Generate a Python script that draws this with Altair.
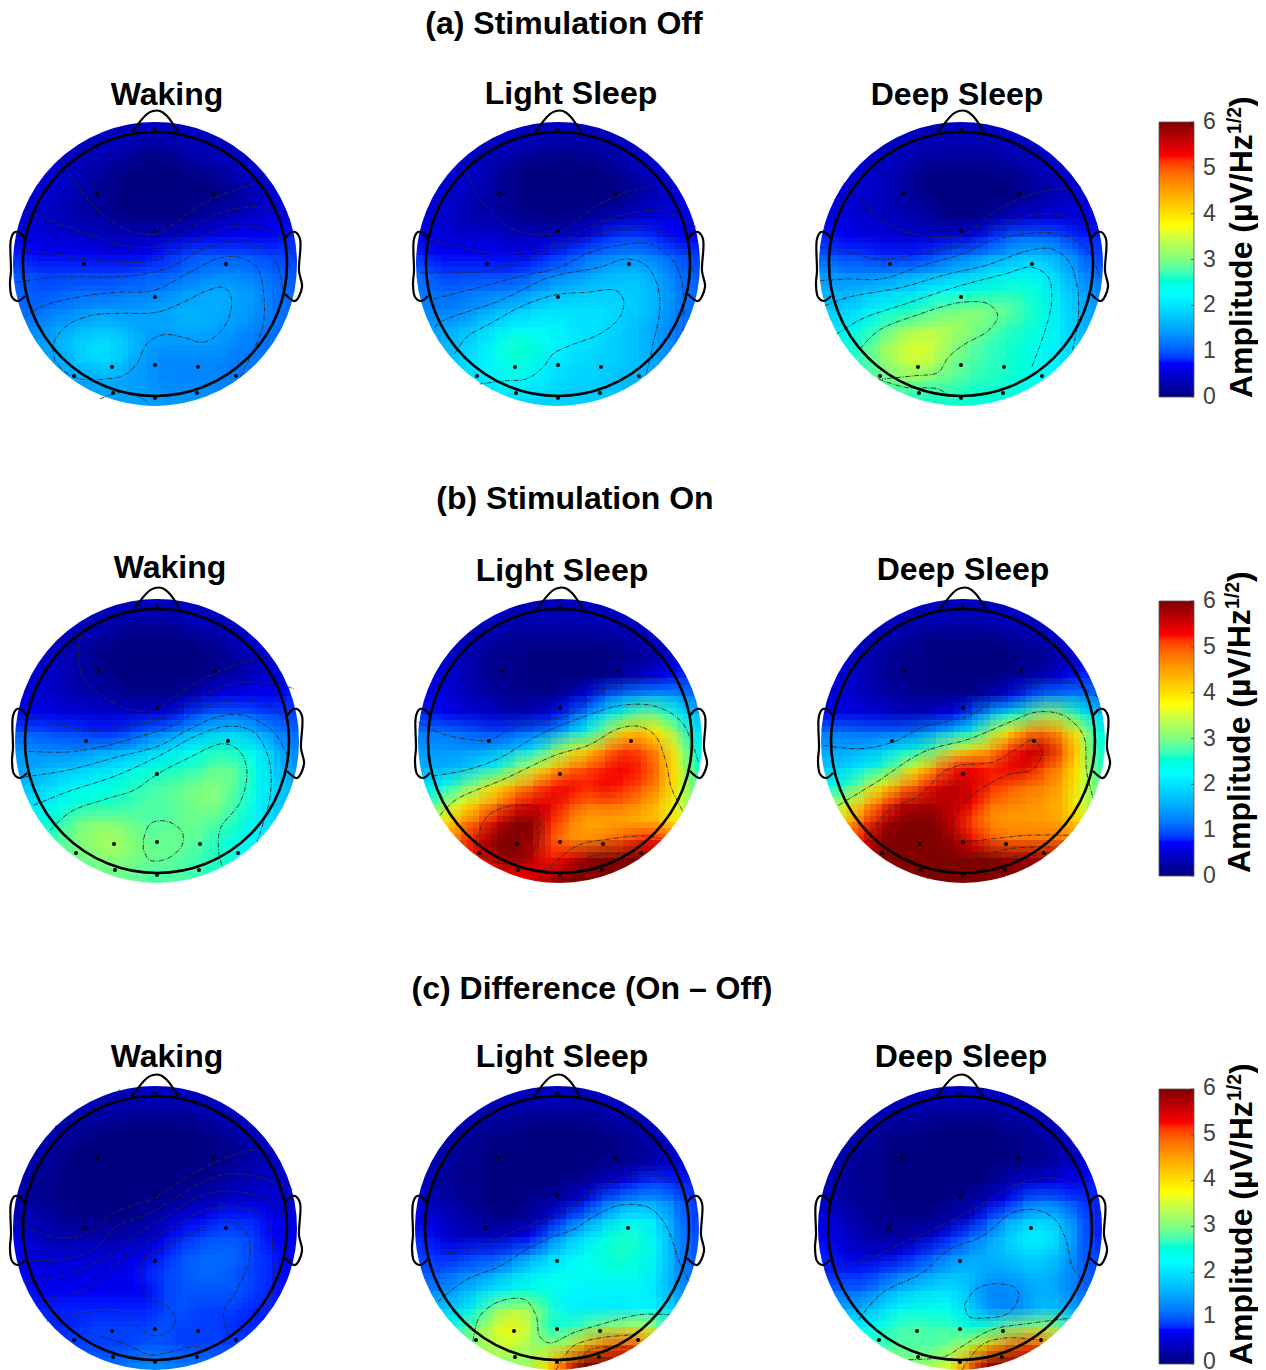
import altair as alt
import pandas as pd

alt.data_transformers.disable_max_rows()

# ---- amplitude grids, tenths of uV/Hz^1/2 (16 x 16 cells, top row first)
off_waking = [
[4,4,4,4,4,4,4,4,4,4,4,4,4,4,4,4],[4,4,4,4,4,4,3,2,2,3,4,4,4,4,4,4],[5,5,5,4,3,2,1,0,0,1,2,3,4,5,5,5],[5,5,5,4,2,1,0,0,0,0,0,1,2,4,5,6],
[5,5,4,3,2,1,0,0,0,0,1,1,2,3,5,6],[5,5,4,3,3,2,1,1,1,1,2,3,4,5,6,7],[6,6,5,5,4,4,4,4,4,5,6,7,7,7,7,8],[8,7,7,7,7,6,6,7,8,9,10,10,10,10,9,9],
[10,9,9,9,9,9,9,10,10,11,12,13,13,12,11,10],[11,10,10,11,11,11,12,12,13,14,15,16,15,14,12,11],[11,11,12,13,14,14,14,15,15,16,16,16,15,14,12,11],[13,13,15,16,17,17,16,15,15,16,16,15,14,13,12,11],
[14,14,16,18,20,20,18,15,14,14,14,14,13,12,11,11],[14,15,15,17,19,19,16,14,13,13,13,13,12,12,12,12],[14,15,15,15,15,16,15,14,13,13,13,13,12,12,12,12],[14,14,14,14,15,15,15,15,14,14,14,13,13,13,13,13]]
off_light = [
[4,4,4,4,4,4,4,4,4,4,4,4,4,4,4,4],[4,4,4,4,4,4,3,2,2,2,3,4,4,4,4,4],[5,5,5,4,3,1,0,0,0,0,1,2,4,5,5,5],[5,5,5,4,2,1,0,0,0,0,0,1,2,4,5,6],
[5,5,4,3,2,1,0,0,0,0,1,1,3,4,5,6],[5,5,4,3,3,2,1,1,1,2,3,4,5,6,6,7],[6,6,5,5,5,4,4,4,5,6,8,9,9,8,7,7],[8,7,7,7,7,6,7,8,9,11,12,13,13,12,10,9],
[11,9,9,9,9,9,10,12,13,14,16,17,17,15,12,10],[12,11,11,12,12,13,14,16,17,18,18,18,18,16,13,11],[13,12,13,14,16,17,19,20,20,20,20,19,18,16,13,11],[15,15,16,18,20,22,22,22,21,20,20,18,17,15,12,11],
[15,16,18,20,23,26,25,23,21,20,19,18,17,15,12,11],[16,17,19,21,23,25,24,21,20,19,19,18,17,15,13,12],[16,17,18,20,22,23,22,20,19,19,18,17,16,15,14,13],[16,17,18,19,20,20,19,19,19,18,18,17,16,15,14,14]]
off_deep = [
[4,4,4,4,4,4,4,4,4,4,4,4,4,4,4,4],[4,4,4,4,4,4,3,3,3,3,4,4,4,4,4,4],[5,5,5,4,4,2,1,1,1,1,2,3,4,5,5,5],[5,5,5,4,3,1,0,0,0,0,0,1,2,4,5,5],
[5,5,5,4,3,2,1,0,0,0,1,2,3,4,5,6],[6,6,5,4,4,3,2,1,1,2,4,5,6,6,6,6],[8,7,6,6,5,5,5,5,6,8,10,11,11,10,8,8],[10,9,9,8,8,8,9,11,12,14,15,17,17,15,12,9],
[14,13,13,13,14,15,16,17,18,20,21,22,21,18,14,11],[16,16,17,18,19,20,22,23,24,25,26,26,24,20,16,13],[18,18,20,22,25,26,28,29,30,30,29,27,25,21,17,14],[20,21,24,27,30,32,33,33,31,29,27,26,24,21,17,15],
[22,24,27,31,34,36,35,31,29,27,26,25,23,21,18,16],[22,24,27,30,33,35,33,30,28,27,26,25,23,21,19,17],[22,24,26,28,30,30,29,28,27,26,26,24,23,22,20,18],[22,23,24,25,26,26,26,26,25,25,25,24,23,22,21,20]]
on_waking = [
[4,4,4,4,4,4,4,4,4,4,4,4,4,4,4,4],[4,4,4,4,4,3,2,2,2,3,4,4,4,4,4,4],[5,5,4,3,2,1,0,0,0,0,1,2,4,5,5,5],[5,5,4,3,1,0,0,0,0,0,0,1,2,4,5,6],
[5,5,4,3,2,1,0,0,0,0,1,2,3,4,5,6],[5,5,4,3,3,2,1,1,1,2,4,6,7,7,7,8],[7,7,6,6,5,5,5,5,6,8,10,11,11,10,9,9],[10,10,9,9,8,8,9,11,12,15,17,18,18,16,13,11],
[14,13,13,13,14,15,16,18,20,22,24,26,25,22,17,13],[15,16,17,18,19,20,22,24,25,26,27,29,28,24,19,14],[17,18,20,22,23,24,26,27,28,29,30,30,28,24,20,16],[20,21,23,25,26,26,27,28,28,29,30,30,27,23,19,16],
[23,24,26,29,30,30,29,28,28,29,29,28,26,22,19,17],[25,26,28,30,32,33,31,29,29,29,28,26,24,22,20,18],[26,27,28,29,30,31,30,29,29,28,27,26,24,23,22,20],[27,27,28,28,29,29,29,28,28,28,27,26,25,24,23,22]]
on_light = [
[4,4,4,4,4,4,4,4,4,4,4,4,4,4,4,4],[4,4,4,4,4,3,3,3,3,3,4,4,4,4,4,4],[5,5,4,3,2,1,1,1,1,1,1,2,3,4,5,5],[5,5,4,2,1,1,0,0,0,0,0,1,1,3,5,5],
[5,5,4,2,1,1,0,0,0,0,1,3,5,7,8,9],[6,6,4,3,2,1,1,1,3,6,10,13,15,16,14,11],[8,7,6,5,4,3,4,6,9,14,20,26,29,28,23,17],[12,12,11,10,9,10,11,13,18,24,31,40,42,38,30,20],
[14,14,14,14,16,18,21,29,35,40,46,51,50,45,36,24],[16,16,17,20,24,30,35,41,47,50,52,53,52,47,38,26],[20,23,28,33,39,43,48,52,53,52,53,52,50,46,38,28],[26,31,37,42,47,52,54,54,51,48,49,48,46,42,36,29],
[34,38,45,50,55,60,59,52,47,44,44,44,43,42,38,32],[40,44,50,55,60,62,58,50,46,46,48,50,52,52,48,42],[43,46,50,54,58,60,56,52,54,58,60,62,62,60,55,48],[45,46,48,50,52,53,54,57,60,62,62,62,62,58,52,46]]
on_deep = [
[4,4,4,4,4,4,4,4,4,4,4,4,4,4,4,4],[4,4,4,4,4,3,3,3,3,3,4,4,4,4,4,4],[5,5,4,3,2,1,0,0,0,0,1,2,3,4,5,5],[5,5,4,2,1,1,0,0,0,0,0,1,1,3,5,5],
[5,5,4,2,1,1,0,0,0,0,1,2,4,6,8,9],[6,5,4,3,2,1,1,1,1,3,6,9,12,13,13,11],[7,6,6,5,4,4,5,7,10,16,22,27,31,30,25,18],[12,12,11,11,11,12,15,19,24,31,38,46,48,44,36,24],
[15,15,16,18,21,25,29,35,40,44,51,55,56,50,39,26],[18,19,22,26,31,38,46,52,53,52,54,54,50,46,38,27],[23,26,31,38,45,50,54,57,55,52,50,48,47,44,37,28],[30,35,42,50,55,57,57,56,53,48,47,46,45,43,37,29],
[36,42,50,56,60,62,60,55,50,46,45,45,45,44,40,33],[42,48,54,60,62,62,62,58,53,50,48,48,48,48,47,42],[46,50,55,60,62,62,62,62,62,60,58,58,58,58,55,50],[48,52,55,58,60,62,62,62,62,62,62,62,60,58,55,52]]
diff_waking = [
[4,4,4,4,4,4,4,4,4,4,4,4,4,4,4,4],[4,4,4,4,3,3,2,2,2,2,3,4,4,4,4,4],[4,4,3,2,1,0,0,0,0,0,1,1,3,4,4,4],[4,3,2,1,0,0,0,0,0,0,0,1,1,3,4,4],
[4,2,1,0,0,0,0,0,0,0,1,1,2,3,4,5],[3,1,1,0,0,0,0,0,0,1,1,2,3,4,4,5],[3,2,1,0,0,0,0,1,1,2,3,4,5,5,5,5],[4,3,2,1,1,1,1,2,4,6,7,8,8,8,7,6],
[6,4,3,3,3,3,3,4,6,8,9,10,10,9,7,7],[7,5,5,5,5,5,6,6,8,10,11,11,11,9,8,7],[7,6,6,6,6,6,7,8,9,10,11,11,10,9,8,7],[8,7,7,7,7,7,7,7,9,10,10,10,10,9,8,7],
[8,8,8,8,8,8,8,8,9,10,9,9,9,8,8,7],[8,8,8,8,9,9,9,9,10,9,9,9,8,8,8,8],[8,8,9,9,9,9,9,10,10,9,9,9,9,9,9,9],[9,9,10,10,11,11,12,13,13,12,12,11,10,10,10,10]]
diff_light = [
[4,4,4,4,4,4,4,4,4,4,4,4,4,4,4,4],[4,4,4,4,3,3,2,2,2,2,3,4,4,4,4,4],[5,4,3,2,1,1,0,0,0,0,1,1,3,4,5,5],[4,3,2,1,0,0,0,0,0,0,0,1,1,3,4,5],
[4,3,1,1,0,0,0,0,0,0,1,1,2,3,5,6],[4,2,1,1,0,0,0,0,1,2,4,6,8,9,8,8],[5,3,2,1,0,0,1,2,3,6,10,13,15,15,12,9],[6,5,3,2,1,1,2,5,9,13,17,21,22,20,14,9],
[8,6,4,4,4,5,7,11,16,20,24,26,26,22,15,10],[9,8,8,9,9,11,14,18,21,23,25,26,25,22,15,10],[10,10,12,13,15,18,21,22,23,23,24,24,24,21,15,11],[13,13,15,18,21,24,25,24,23,22,22,22,22,20,15,12],
[18,18,19,24,30,33,33,27,22,21,21,20,22,22,18,14],[24,24,26,30,35,38,34,26,26,28,31,33,35,32,25,18],[26,27,28,31,34,35,32,31,34,42,48,50,50,44,34,30],[28,29,30,31,31,31,32,40,50,60,62,62,60,52,42,36]]
diff_deep = [
[4,4,4,4,4,4,4,4,4,4,4,4,4,4,4,4],[4,4,4,4,3,3,2,2,2,2,3,4,4,4,4,4],[5,4,3,2,1,1,0,0,0,0,1,1,3,4,5,5],[4,3,2,1,0,0,0,0,0,0,0,1,1,3,4,5],
[4,3,1,1,0,0,0,0,0,0,1,1,2,3,5,6],[4,2,1,1,0,0,0,0,0,1,3,5,6,7,7,8],[4,2,2,1,0,0,0,1,2,4,7,10,12,11,9,8],[6,4,2,1,1,1,1,3,5,9,14,17,19,17,12,8],
[7,5,3,2,2,3,5,8,11,14,18,21,22,19,13,8],[8,6,5,5,6,8,10,13,15,16,17,19,19,17,12,9],[8,8,8,9,11,13,15,17,17,15,15,16,17,15,12,9],[11,11,11,14,17,19,20,20,17,13,13,14,16,15,12,10],
[16,16,16,19,22,24,24,23,19,14,13,14,17,17,14,11],[22,22,22,24,27,28,27,27,25,26,29,31,33,30,23,16],[26,26,27,27,28,28,28,30,34,41,47,50,50,44,36,27],[27,28,29,30,30,31,32,36,48,58,62,62,60,52,44,30]]

# ---- contour lines, x/y in a 3x zoom of each panel, with the panel's head centre
off_waking_c = (465, 580, [
[(185,265),(215,320),(270,395),(340,455),(400,485),(465,490),(520,460),(590,410),(660,375),(775,335)],
[(75,420),(180,460),(290,500),(400,530),(480,525),(560,480),(640,435),(720,412),(800,412),(870,445)],
[(80,538),(200,555),(320,572),(440,572),(530,540),(620,490),(700,468),(780,470),(850,510),(890,570)],
[(50,635),(160,620),(350,618),(430,610),(510,590),(600,540),(700,513),(780,530),(830,580),(850,660)],
[(75,740),(120,710),(230,680),(350,665),(460,660),(560,610),(650,565),(710,558),(770,590),(790,660),(790,760),(760,840),(720,920)],
[(165,870),(160,820),(200,765),(270,735),(350,728),(470,725),(550,695),(620,660),(670,650),(692,675),(690,730),(660,785),(610,815),(550,800),(490,792),(440,820),(410,880),(370,915),(320,925),(240,925),(190,900),(165,870)],
[(300,985),(370,965),(430,985),(450,1005)]])
off_light_c = (475, 580, [
[(200,280),(215,340),(270,420),(340,475),(420,492),(480,485),(530,450),(600,400),(680,365),(780,340)],
[(85,505),(180,530),(280,548),(400,540),(490,510),(570,470),(680,430),(780,420),(850,445),(890,470)],
[(60,607),(160,607),(270,600),(380,565),(480,530),(560,500),(650,478),(750,472),(840,520),(880,600)],
[(100,685),(220,655),(350,620),(480,590),(560,550),(650,525),(750,520),(820,570),(850,650),(850,780)],
[(105,770),(130,750),(300,690),(450,620),(600,590),(680,565),(740,585),(775,650),(780,720),(760,820),(740,910)],
[(165,850),(200,800),(270,760),(370,705),(470,672),(560,665),(650,660),(672,690),(660,740),(600,790),(510,825),(460,850),(430,890),(380,925),(320,930),(240,940)]])
off_deep_c = (468, 580, [
[(115,335),(170,395),(250,460),(330,490),(420,498),(480,490),(560,430),(640,385),(720,360),(830,350)],
[(45,530),(130,545),(220,565),(340,550),(460,525),(550,480),(650,440),(750,430),(860,470)],
[(45,630),(130,625),(230,625),(350,585),(470,550),(560,510),(680,488),(760,490),(840,530),(885,620)],
[(60,705),(130,680),(290,650),(430,610),(540,585),(670,540),(740,535),(790,570),(815,640),(820,740),(800,850)],
[(95,790),(170,745),(300,700),(450,650),(600,610),(680,590),(730,620),(740,690),(720,780),(680,890)],
[(165,835),(220,780),(330,735),(470,695),(550,700),(578,735),(550,780),(480,820),(430,860),(400,905),(330,915),(230,925)],
[(220,925),(300,950),(400,955),(430,975)]])
on_waking_c = (470, 587, [
[(270,220),(235,300),(250,400),(310,455),(400,495),(470,490),(550,435),(640,385),(720,355),(810,328)],
[(85,510),(180,540),(290,555),(400,540),(490,515),(570,470),(680,420),(800,410),(880,430)],
[(85,618),(200,620),(300,605),(430,570),(520,540),(620,480),(720,462),(800,480),(870,530)],
[(70,695),(200,675),(350,635),(480,600),(560,555),(650,515),(730,510),(820,560),(860,630)],
[(100,780),(200,740),(350,690),(480,630),(580,575),(680,543),(760,560),(805,640),(810,750),(770,890)],
[(150,855),(210,800),(320,760),(400,735),(470,687),(560,640),(670,595),(720,620),(740,680),(720,770),(660,850),(655,920),(665,960)],
[(430,880),(450,835),(500,828),(545,860),(545,900),(500,940),(450,945),(430,915),(430,880)]])
on_light_c = (465, 587, [
[(40,530),(110,565),(200,583),(255,583),(330,545),(430,525),(500,505),(570,450),(650,410),(750,398),(840,420)],
[(85,692),(180,675),(280,640),(400,570),(520,520),(650,480),(750,483),(830,530),(880,650)],
[(105,810),(150,765),(300,700),(450,630),(550,600),(640,550),(700,543),(750,570),(780,640),(800,730),(835,800)],
[(215,880),(250,810),(330,780),(395,790),(405,850),(395,900),(350,945),(290,955),(220,920),(215,880)],
[(400,1005),(450,950),(520,900),(620,880),(720,872),(770,880)],
[(530,1005),(530,950),(600,925),(700,935)]])
on_deep_c = (459, 587, [
[(40,600),(150,610),(250,590),(340,545),(480,510),(560,460),(650,420),(760,405),(870,460)],
[(85,780),(200,710),(340,620),(480,580),(600,530),(680,500),(760,510),(820,570),(830,680),(850,760)],
[(170,890),(230,800),(330,750),(400,680),(450,660),(550,650),(620,610),(670,585),(695,620),(670,670),(590,690),(500,740),(440,800),(440,860),(470,885),(550,880),(650,870),(780,870)],
[(350,1000),(430,960),(600,910),(720,905)],
[(480,1010),(520,960),(600,935),(680,930)]])
diff_waking_c = (465, 595, [
[(165,290),(280,240),(360,180)],
[(45,570),(120,610),(200,625),(280,600),(340,550),(460,505),(550,450),(640,400),(720,370),(800,350)],
[(50,690),(180,690),(280,660),(350,590),(450,550),(550,490),(650,440),(750,435),(880,480)],
[(70,755),(200,735),(320,680),(400,620),(500,560),(600,500),(700,485),(800,510),(860,570)],
[(110,818),(250,780),(330,720),(420,650),(520,590),(620,540),(720,530),(800,570),(820,680),(820,780),(790,870)],
[(685,920),(670,850),(710,780),(750,680),(740,610),(680,575),(600,600),(500,650),(430,690),(420,750),(440,800),(500,830),(527,870),(500,910),(450,915),(400,880),(370,850),(300,845),(220,855),(140,875)],
[(300,920),(380,945),(450,975),(520,965),(590,950),(640,975)]])
diff_light_c = (472, 595, [
[(125,670),(220,660),(320,615),(430,570),(500,540),(570,490),(650,450),(750,438),(840,465),(890,520)],
[(115,815),(200,750),(300,710),(380,660),(450,625),(520,600),(600,550),(670,525),(750,535),(800,590),(840,700),(870,760)],
[(220,935),(240,860),(300,815),(375,810),(410,860),(420,920),(450,940),(520,910),(600,885),(720,855),(810,855)],
[(470,1020),(520,950),(600,925),(710,915)],
[(530,1010),(570,960),(700,955)]])
diff_deep_c = (464, 595, [
[(60,725),(180,690),(280,645),(400,590),(520,530),(620,470),(720,445),(820,470),(890,570)],
[(160,870),(230,790),(350,730),(430,660),(530,620),(620,550),(690,540),(750,570),(785,640),(800,710),(850,770)],
[(478,825),(510,780),(570,762),(630,775),(640,800),(610,850),(540,865),(490,860),(478,825)],
[(310,990),(420,980),(470,950),(560,900),(680,880),(800,865)],
[(470,1020),(530,945),(600,925),(700,930)]])

# ---- head geometry, pixels from head centre
electrodes_x = [0,-58,58,0,-71,71,0,-43,0,43,-81,81,-42,42,0]
electrodes_y = [-134,-70,-70,-33,0,0,33,103,101,103,112,112,129,129,134]
nose = [(-23,-132),(-8,-150),(-2,-153),(5,-153),(12,-148),(23,-132)]
ear_l = [(-130,-25),(-135,-31),(-140,-32),(-144,-25),(-144,7),(-145,20),(-143,33),(-137,37),(-130,32)]
ear_r = [(130,-25),(135,-31),(140,-32),(145,-25),(144,7),(147,23),(140,37),(130,30)]

# ---- panels: grid, contours, head centre
panels = [
 (off_waking, off_waking_c, 155, 264), (off_light, off_light_c, 558, 264), (off_deep, off_deep_c, 961, 264),
 (on_waking, on_waking_c, 157, 741), (on_light, on_light_c, 560, 741), (on_deep, on_deep_c, 963, 741),
 (diff_waking, diff_waking_c, 155, 1228), (diff_light, diff_light_c, 557, 1228), (diff_deep, diff_deep_c, 960, 1228),
]
titles = ["(a) Stimulation Off", "(b) Stimulation On", "(c) Difference (On \u2013 Off)"]
titles_x = [564, 575, 592]
titles_y = [24, 499, 989]
sub_text = ["Waking","Light Sleep","Deep Sleep"]*3
sub_x = [167,571,957,170,562,963,167,562,961]
sub_y = [95,94,95,568,571,570,1057,1057,1057]
bar_top = [122, 601, 1089]
bar_bottom = [397, 876, 1364]
bar_ticks = [0,1,2,3,4,5,6]
tick_label_top = [122, 601, 1088]
tick_label_bottom = [397, 876, 1362]
label_start = [398, 873, 1365]
label_base = [1252, 1250, 1252]

CELL, N = 18, 16
RING_R, DISK_R = 132, 142
W, H = 1258, 1370
EXT = 11

cells, cont, elec, ring, outline = [], [], [], [], []
steps = [-9,-3,3,9]
offs = [(a,b) for b in steps for a in steps]
for p,(grid,cn,cx,cy) in enumerate(panels):
    for k,(dx,dy) in enumerate(offs):
        for r,row in enumerate(grid):
            for c,v in enumerate(row):
                x0 = cx-144+c*CELL+dx - (EXT if c==0 else 0)
                x1 = cx-144+(c+1)*CELL+dx + (EXT if c==N-1 else 0)
                y0 = cy-144+r*CELL+dy - (EXT if r==0 else 0)
                y1 = cy-144+(r+1)*CELL+dy + (EXT if r==N-1 else 0)
                cells.append(dict(x=x0,x2=x1,y=y0,y2=y1,v=v/10,o=round(1/(k+1),4)))
    zx,zy,lines = cn
    for i,l in enumerate(lines):
        for j,(a,b) in enumerate(l):
            cont.append(dict(x=round(cx+(a-zx)/3,1),y=round(cy+(b-zy)/3,1),id=f"{p}-{i}",k=j))
    for ex,ey in zip(electrodes_x,electrodes_y):
        elec.append(dict(x=cx+ex,y=cy+ey))
    ring.append(dict(x=cx,y=cy))
    for nm,pts in (("n",nose),("l",ear_l),("r",ear_r)):
        for j,(a,b) in enumerate(pts):
            outline.append(dict(x=cx+a,y=cy+b,id=f"{p}{nm}",k=j))

X = alt.X("x:Q", scale=alt.Scale(domain=[8,W]), axis=None)
Y = alt.Y("y:Q", scale=alt.Scale(domain=[H,8]), axis=None)
jet = alt.Scale(domain=[0,0.75,2.25,3,3.75,5.25,6],
                range=["#000080","#0000ff","#00ffff","#80ff80","#ffff00","#ff0000","#800000"],
                clamp=True)
FONT = "Liberation Sans"

layer_cells = alt.Chart(pd.DataFrame(cells)).mark_rect(strokeWidth=0).encode(
    X, alt.X2("x2:Q"), Y, alt.Y2("y2:Q"),
    color=alt.Color("v:Q", scale=jet, legend=None),
    opacity=alt.Opacity("o:Q", scale=None))

rd = pd.DataFrame(ring)
outer = 240
layer_mask = alt.Chart(rd).mark_point(filled=False, stroke="white", strokeWidth=outer-DISK_R, opacity=1,
                                      size=(outer+DISK_R)**2).encode(X, Y)
layer_cont = alt.Chart(pd.DataFrame(cont)).mark_line(interpolate="catmull-rom", stroke="#2a2a2a", strokeWidth=1,
                                                     opacity=0.9, strokeDash=[5,1.5,1,1.5]).encode(
    X, Y, detail="id:N", order="k:Q")
layer_elec = alt.Chart(pd.DataFrame(elec)).mark_point(filled=True, color="black", size=16, opacity=1).encode(X, Y)
layer_ring = alt.Chart(rd).mark_point(filled=False, stroke="black", strokeWidth=2.6, opacity=1,
                                      size=(2*RING_R)**2).encode(X, Y)
layer_out = alt.Chart(pd.DataFrame(outline)).mark_line(stroke="black", strokeWidth=2.2, interpolate="catmull-rom").encode(
    X, Y, detail="id:N", order="k:Q")

title_df = pd.DataFrame(dict(x=titles_x,y=titles_y,t=titles))
layer_title = alt.Chart(title_df).mark_text(font=FONT, fontSize=32, fontWeight="bold", color="black", baseline="middle").encode(X, Y, text="t:N")
sub_df = pd.DataFrame(dict(x=sub_x,y=sub_y,t=sub_text))
layer_sub = alt.Chart(sub_df).mark_text(font=FONT, fontSize=32, fontWeight="bold", color="black", baseline="middle").encode(X, Y, text="t:N")

bars, bar_frame, ticks, tlabels, t_main, t_sup, t_par = [], [], [], [], [], [], []
for b,(t,bt) in enumerate(zip(bar_top,bar_bottom)):
    for i in range(bt-t):
        bars.append(dict(x=1159,x2=1194,y=bt-i,y2=bt-i-1,v=6*(i+.5)/(bt-t)))
    bar_frame.append(dict(x=1159,x2=1194,y=t,y2=bt))
    for v in bar_ticks:
        ticks.append(dict(x=1191,x2=1194,y=bt-(bt-t)*v/6))
        lt, lb = tick_label_top[b], tick_label_bottom[b]
        tlabels.append(dict(x=1203,y=lb-(lb-lt)*v/6,t=str(v)))
    s, bx = label_start[b], label_base[b]
    t_main.append(dict(x=bx,y=s,t="Amplitude (\u00b5V/Hz"))
    t_sup.append(dict(x=bx-11,y=s-264,t="1/2"))
    t_par.append(dict(x=bx,y=s-291,t=")"))

layer_bar = alt.Chart(pd.DataFrame(bars)).mark_rect(strokeWidth=0).encode(
    X, alt.X2("x2:Q"), Y, alt.Y2("y2:Q"),
    color=alt.Color("v:Q", scale=jet, legend=None))
layer_frame = alt.Chart(pd.DataFrame(bar_frame)).mark_rect(fill=None, stroke="#555555", strokeWidth=0.8).encode(
    X, alt.X2("x2:Q"), Y, alt.Y2("y2:Q"))
layer_ticks = alt.Chart(pd.DataFrame(ticks)).mark_rule(stroke="#444444", strokeWidth=0.8).encode(X, alt.X2("x2:Q"), Y)
layer_tl = alt.Chart(pd.DataFrame(tlabels)).mark_text(font=FONT, fontSize=23, color="#404040", align="left", baseline="middle").encode(X, Y, text="t:N")
layer_m = alt.Chart(pd.DataFrame(t_main)).mark_text(font=FONT, fontSize=32, fontWeight="bold", color="black", angle=270, align="left", baseline="alphabetic").encode(X, Y, text="t:N")
layer_s = alt.Chart(pd.DataFrame(t_sup)).mark_text(font=FONT, fontSize=19.5, fontWeight="bold", color="black", angle=270, align="left", baseline="alphabetic").encode(X, Y, text="t:N")
layer_p = alt.Chart(pd.DataFrame(t_par)).mark_text(font=FONT, fontSize=32, fontWeight="bold", color="black", angle=270, align="left", baseline="alphabetic").encode(X, Y, text="t:N")

chart = alt.layer(layer_cells, layer_mask, layer_cont, layer_elec, layer_ring, layer_out, layer_title, layer_sub,
                  layer_bar, layer_frame, layer_ticks, layer_tl, layer_m, layer_s, layer_p
    ).resolve_scale(color="shared").properties(
    width=W-8, height=H-8, padding=0, autosize=alt.AutoSizeParams(type="none"), background="white"
    ).configure_view(stroke=None)
chart.save("out.html", embed_options={"renderer": "svg", "actions": False})
